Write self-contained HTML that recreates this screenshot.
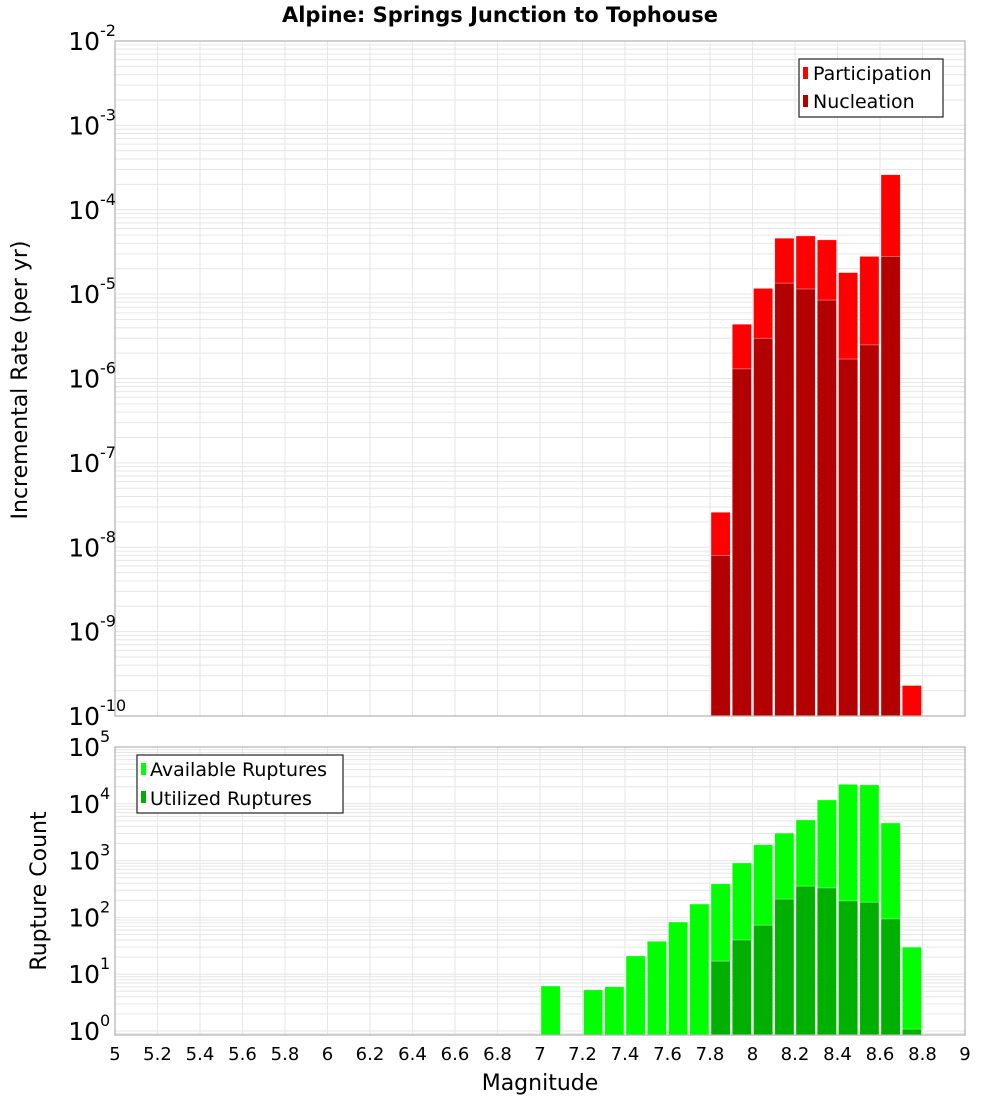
<!DOCTYPE html>
<html><head><meta charset="utf-8"><style>
body{margin:0;background:#fff;font-family:"Liberation Sans","DejaVu Sans",sans-serif}
svg text{font-family:"DejaVu Sans","Liberation Sans",sans-serif}
</style></head><body>
<svg id="c" width="1000" height="1100" xmlns="http://www.w3.org/2000/svg">
<text x="500" y="22" text-anchor="middle" font-size="21" font-weight="bold">Alpine: Springs Junction to Tophouse</text>
<g id="grid"></g>
<g id="bars"></g>
<g id="axes"></g>
<text transform="translate(27,380) rotate(-90)" text-anchor="middle" font-size="22">Incremental Rate (per yr)</text>
<text transform="translate(46,891) rotate(-90)" text-anchor="middle" font-size="22">Rupture Count</text>
<text x="540" y="1090" text-anchor="middle" font-size="22">Magnitude</text>
<g>
<rect x="799" y="59" width="144" height="58" fill="#fff" stroke="#333" stroke-width="1.3"/>
<rect x="803" y="67" width="5" height="12" fill="#ff0000"/>
<text x="813" y="80" font-size="19">Participation</text>
<rect x="803" y="95" width="5" height="12" fill="#b30000"/>
<text x="813" y="108" font-size="19">Nucleation</text>
</g>
<g>
<rect x="137" y="755" width="206" height="58" fill="#fff" stroke="#333" stroke-width="1.3"/>
<rect x="141" y="763" width="5" height="12" fill="#00ff00"/>
<text x="150" y="776" font-size="19">Available Ruptures</text>
<rect x="141" y="791" width="5" height="12" fill="#00b000"/>
<text x="150" y="805" font-size="19">Utilized Ruptures</text>
</g>
</svg>
<script>
const mags=[7.05,7.15,7.25,7.35,7.45,7.55,7.65,7.75,7.85,7.95,8.05,8.15,8.25,8.35,8.45,8.55,8.65,8.75];
const participation=[0,0,0,0,0,0,0,0,2.6e-8,4.4e-6,1.17e-5,4.6e-5,4.9e-5,4.4e-5,1.8e-5,2.8e-5,2.6e-4,2.3e-10];
const nucleation=[0,0,0,0,0,0,0,0,8e-9,1.3e-6,3e-6,1.35e-5,1.15e-5,8.5e-6,1.7e-6,2.5e-6,2.8e-5,0];
const available=[6.2,0,5.3,6,21,38,83,172,390,910,1900,3050,5200,11700,22000,21500,4600,30];
const utilized=[0,0,0,0,0,0,0,0,17,40,73,210,355,330,195,185,94,1.08];
const xTicks=[5,5.2,5.4,5.6,5.8,6,6.2,6.4,6.6,6.8,7,7.2,7.4,7.6,7.8,8,8.2,8.4,8.6,8.8,9];
const topExps=[-2,-3,-4,-5,-6,-7,-8,-9,-10];
const botExps=[5,4,3,2,1,0];
const NS='http://www.w3.org/2000/svg';
const L=115,R=965,T1=41,B1=716,T2=747,B2=1035;
const x=m=>L+(m-5)*(R-L)/4;
const yTop=v=>T1+(-2-Math.log10(v))*(B1-T1)/8;
const yBot=v=>1031-Math.log10(v)*56.8;
function mk(tag,attrs,parent){const e=document.createElementNS(NS,tag);for(const k in attrs)e.setAttribute(k,attrs[k]);parent.appendChild(e);return e;}
const grid=document.getElementById('grid'),bars=document.getElementById('bars'),axes=document.getElementById('axes');
// backgrounds
[[T1,B1],[T2,B2]].forEach(([t,b])=>{
  mk('rect',{x:L,y:t,width:R-L,height:b-t,fill:'#fff'},grid);
  xTicks.forEach(m=>mk('line',{x1:x(m),x2:x(m),y1:t,y2:b,stroke:'#e6e6e6','stroke-width':1},grid));
});
for(let e=-10;e<-2;e++)for(let k=1;k<10;k++){const y=yTop(k*Math.pow(10,e));mk('line',{x1:L,x2:R,y1:y,y2:y,stroke:'#e6e6e6','stroke-width':1},grid);}
for(let e=-1;e<5;e++)for(let k=1;k<10;k++){const y=yBot(k*Math.pow(10,e));if(y<T2||y>B2)continue;mk('line',{x1:L,x2:R,y1:y,y2:y,stroke:'#e6e6e6','stroke-width':1},grid);}
const bw=(R-L)/40;
function bar(m,v,yf,bottom,fill,name){
  if(!v)return;const y=Math.max(yf(v),0);
  const r=mk('rect',{x:x(m)-bw/2+1,y:y,width:bw-2,height:bottom-y,fill:fill,stroke:'rgba(255,255,255,0.6)','stroke-width':0.6},bars);
  
  
}
mags.forEach((m,i)=>{
  bar(m,participation[i],yTop,B1,'#ff0000','participation-bar');
  bar(m,nucleation[i],yTop,B1,'#b30000','nucleation-bar');
  bar(m,available[i],yBot,B2,'#00ff00','available-bar');
  bar(m,utilized[i],yBot,B2,'#00b000','utilized-bar');
});
[[T1,B1],[T2,B2]].forEach(([t,b])=>mk('rect',{x:L,y:t,width:R-L,height:b-t,fill:'none',stroke:'#b0b0b0','stroke-width':1.2},axes));
xTicks.forEach(m=>{const t=mk('text',{x:x(m),y:1060,'text-anchor':'middle','font-size':18},axes);t.textContent=String(m);

});
function ylab(y,e,parent){
  const t=mk('text',{x:100,y:y+9,'text-anchor':'end','font-size':25},parent);
  
  
  t.textContent='10';
  const s=mk('text',{x:100,y:y-5,'font-size':16},parent);s.textContent=String(e);
  
  
}
topExps.forEach(e=>ylab(yTop(Math.pow(10,e)),e,axes));
botExps.forEach(e=>ylab(yBot(Math.pow(10,e)),e,axes));
</script>
</body></html>
